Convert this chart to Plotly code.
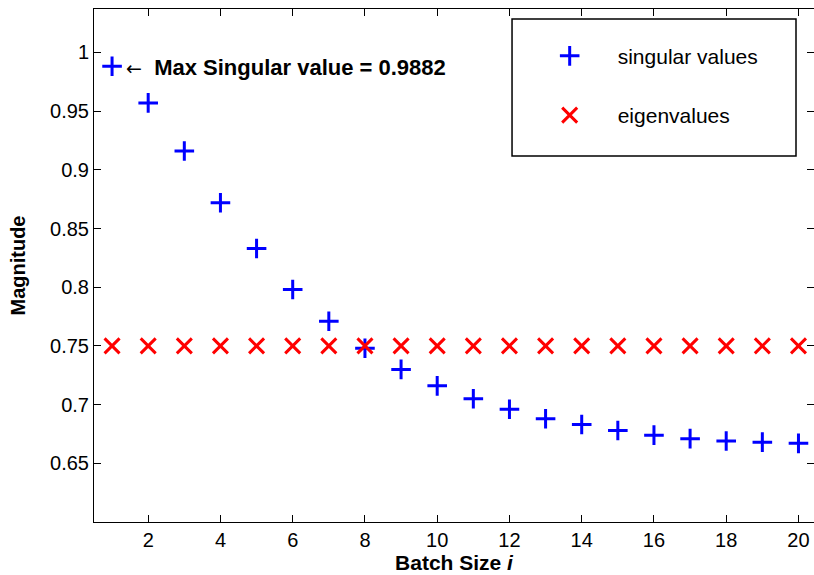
import plotly.graph_objects as go

batch = list(range(1, 21))
singular_values = [0.9882, 0.957, 0.916, 0.872, 0.833, 0.798, 0.771, 0.748, 0.730,
                   0.716, 0.705, 0.696, 0.688, 0.683, 0.678, 0.674, 0.671, 0.669,
                   0.668, 0.667]
eigenvalues = [0.75] * 20
x_ticks = list(range(2, 21, 2))
y_ticks = [0.65, 0.7, 0.75, 0.8, 0.85, 0.9, 0.95, 1.0]
y_tick_text = ["0.65", "0.7", "0.75", "0.8", "0.85", "0.9", "0.95", "1"]

FONT = "Arial, 'Liberation Sans', Helvetica, sans-serif"

fig = go.Figure()
fig.add_trace(go.Scatter(
    x=batch, y=singular_values, mode="markers", name="singular values",
    legendgroup="a",
    marker=dict(symbol="cross-thin", size=14, color="#0000ff",
                line=dict(color="#0000ff", width=3)),
))
fig.add_trace(go.Scatter(
    x=batch, y=eigenvalues, mode="markers", name="eigenvalues",
    legendgroup="b",
    marker=dict(symbol="x-thin", size=15, color="#ff0000",
                line=dict(color="#ff0000", width=3)),
))

fig.add_annotation(
    x=batch[0], y=singular_values[0], xref="x", yref="y",
    text=("<span style=\"font-family:'DejaVu Sans';font-size:19px;font-weight:normal\">←</span>  "
          "<b>Max Singular value = %.4f</b>" % singular_values[0]),
    showarrow=False, xanchor="left", yanchor="middle", xshift=12, yshift=-1,
    font=dict(family=FONT, size=22, color="black"),
)

# legend box
fig.add_shape(type="rect", xref="paper", yref="paper",
              x0=0.5806, x1=0.975, y0=0.7135, y1=0.9805,
              line=dict(color="black", width=1.5), fillcolor="white", layer="below")

fig.update_layout(
    width=814, height=575,
    margin=dict(l=94, r=0, t=9, b=53),
    paper_bgcolor="white", plot_bgcolor="white",
    font=dict(family=FONT, size=20, color="black"),
    showlegend=True,
    legend=dict(x=0.594, y=0.948, xanchor="left", yanchor="top",
                bgcolor="rgba(0,0,0,0)", borderwidth=0,
                tracegroupgap=29, itemwidth=86,
                font=dict(family=FONT, size=21, color="black")),
    xaxis=dict(range=[0.5, 20.43], tickvals=x_ticks, ticks="inside", ticklen=7,
               tickcolor="black", showline=True, linecolor="black", linewidth=1,
               mirror="ticks", showgrid=False, zeroline=False,
               tickfont=dict(family=FONT, size=20),
               title=dict(text="<b>Batch Size <i>i</i></b>", standoff=0,
                          font=dict(family=FONT, size=21))),
    yaxis=dict(range=[0.6, 1.037], tickvals=y_ticks, ticktext=y_tick_text,
               ticks="inside", ticklen=7, tickcolor="black", showline=True,
               linecolor="black", linewidth=1, mirror="ticks", showgrid=False,
               zeroline=False, tickfont=dict(family=FONT, size=20),
               title=dict(text="<b>Magnitude</b>", standoff=19,
                          font=dict(family=FONT, size=20))),
)

fig.write_html("out.html")
